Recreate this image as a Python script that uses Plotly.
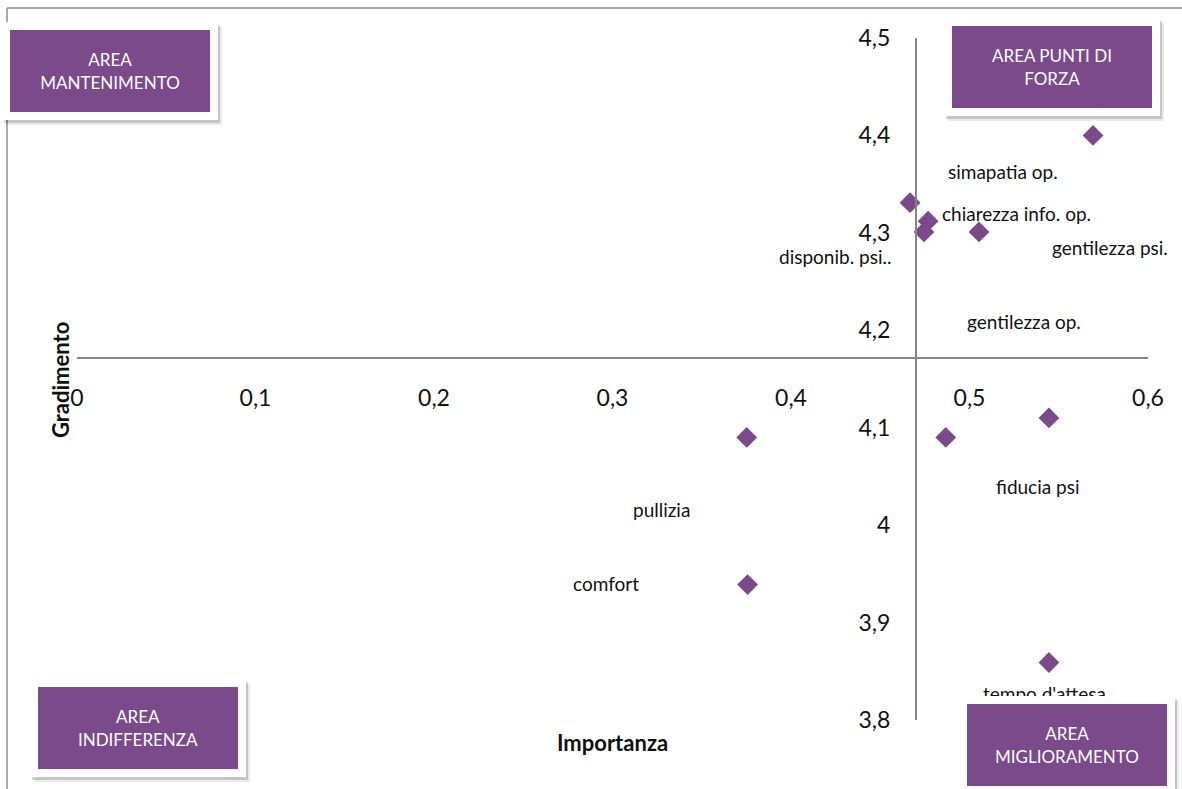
import plotly.graph_objects as go

# Importanza / Gradimento per ciascun aspetto del servizio
importanza = [0.5692, 0.4667, 0.4768, 0.4745, 0.5053, 0.5445, 0.3752, 0.4867, 0.3757, 0.5445]
gradimento = [4.400, 4.331, 4.312, 4.301, 4.301, 4.110, 4.090, 4.090, 3.939, 3.859]
etichette = ["simapatia op.", "disponib. psi..", "chiarezza info. op.", "gentilezza op.",
             "gentilezza psi.", "fiducia psi", "pullizia", "", "comfort", "tempo d'attesa"]

# spostamento delle etichette rispetto al punto (pixel: dx, dy verso l'alto)
spost_x = [-90, -75, 88, 100, 131, -11, -85, 0, -142, -4]
spost_y = [-36, -54, 8, -90, -16, -69, -72, 0, 1, -31]

# incrocio degli assi
incrocio_x = 0.47
incrocio_y = 4.172

x_range = [0, 0.6]
y_range = [3.8, 4.5]
x_tick = [0, 0.1, 0.2, 0.3, 0.4, 0.5, 0.6]
y_tick = [3.8, 3.9, 4.0, 4.1, 4.2, 4.3, 4.4, 4.5]

aree = ["AREA<br>MANTENIMENTO", "AREA PUNTI DI<br>FORZA", "AREA<br>INDIFFERENZA", "AREA<br>MIGLIORAMENTO"]

VIOLA = "#7a4a8b"
GRIGIO = "#868686"
FONT = "Lato"

W, H = 1182, 789
ML, MR, MT, MB = 77, 34, 38, 69
PW, PH = W - ML - MR, H - MT - MB


def px_x(p):
    return (p - ML) / PW


def px_y(p):
    return (H - MB - p) / PH


fig = go.Figure()
fig.add_trace(go.Scatter(
    x=importanza, y=gradimento, mode="markers",
    marker=dict(symbol="diamond", size=16, color=VIOLA),
    hoverinfo="skip", showlegend=False,
))

annotations = []
for xv, yv, t, dx, dy in zip(importanza, gradimento, etichette, spost_x, spost_y):
    if not t:
        continue
    annotations.append(dict(
        x=xv, y=yv, xref="x", yref="y", text=t, showarrow=False,
        xshift=dx, yshift=dy, xanchor="center", yanchor="middle",
        font=dict(family=FONT, size=19, color="#111111"),
    ))

# titoli degli assi
annotations.append(dict(
    x=px_x(612), y=px_y(742), xref="paper", yref="paper", text="<b>Importanza</b>",
    showarrow=False, xanchor="center", yanchor="middle",
    font=dict(family=FONT, size=22, color="#111111"),
))
annotations.append(dict(
    x=px_x(60), y=px_y(380), xref="paper", yref="paper", text="<b>Gradimento</b>",
    showarrow=False, textangle=-90, xanchor="center", yanchor="middle",
    font=dict(family=FONT, size=22, color="#111111"),
))

# riquadri delle aree (centro in pixel)
centri = [(109.5, 71), (1052, 67), (138, 728), (1067, 745)]
for testo, (cx, cy) in zip(aree, centri):
    for off, alpha in ((5, 0.08), (3, 0.16)):
        annotations.append(dict(
            x=px_x(cx + off - 1), y=px_y(cy + off), xref="paper", yref="paper",
            text=" ", showarrow=False, width=216, height=98, borderpad=0, borderwidth=0,
            bgcolor=f"rgba(0,0,0,{alpha})", xanchor="center", yanchor="middle",
        ))
    annotations.append(dict(
        x=px_x(cx), y=px_y(cy), xref="paper", yref="paper", text=testo,
        showarrow=False, width=200, height=82, borderpad=0, borderwidth=8,
        bgcolor=VIOLA, bordercolor="white", xanchor="center", yanchor="middle",
        align="center", font=dict(family=FONT, size=17, color="white"),
    ))

# cornice dell'area grafico (bordo superiore e sinistro)
shapes = [
    dict(type="line", xref="paper", yref="paper", x0=px_x(7), y0=px_y(8), x1=px_x(W + 5), y1=px_y(8),
         line=dict(color="#8c8c8c", width=1.5)),
    dict(type="line", xref="paper", yref="paper", x0=px_x(7), y0=px_y(8), x1=px_x(7), y1=px_y(H + 5),
         line=dict(color="#8c8c8c", width=1.5)),
]

fig.update_layout(
    width=W, height=H, autosize=False,
    margin=dict(l=ML, r=MR, t=MT, b=MB),
    plot_bgcolor="white", paper_bgcolor="white",
    separators=",.",
    font=dict(family=FONT, color="#111111"),
    annotations=annotations, shapes=shapes,
    xaxis=dict(
        range=x_range, tickvals=x_tick, tickformat=".1~f",
        showgrid=False, zeroline=False, showline=True, linecolor=GRIGIO, linewidth=2,
        ticks="", anchor="free",
        position=(incrocio_y - y_range[0]) / (y_range[1] - y_range[0]),
        tickfont=dict(family=FONT, size=23, color="#111111"), ticklabelstandoff=20,
    ),
    yaxis=dict(
        range=y_range, tickvals=y_tick, tickformat=".1~f",
        showgrid=False, zeroline=False, showline=True, linecolor=GRIGIO, linewidth=2,
        ticks="", anchor="free", side="left",
        position=(incrocio_x - x_range[0]) / (x_range[1] - x_range[0]),
        tickfont=dict(family=FONT, size=23, color="#111111"), ticklabelstandoff=20,
    ),
)

fig.write_html("out.html")
